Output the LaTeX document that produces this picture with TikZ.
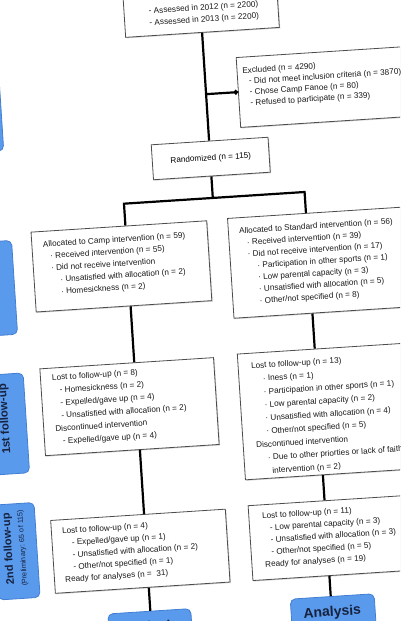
\documentclass[tikz,border=0pt]{standalone}
\usepackage{fontspec}
\setmainfont{Liberation Sans}
\usetikzlibrary{arrows.meta,shadows}
\definecolor{lblfill}{RGB}{90,154,236}
\definecolor{lbledge}{RGB}{66,126,210}
\definecolor{lbltext}{RGB}{22,34,62}
\newcommand\myind[1]{\hspace*{#1pt}}
\newcommand\fs[1]{\fontsize{8.2}{#1}\selectfont}
\begin{document}
\begin{tikzpicture}[x=1pt,y=-1pt,
  conn/.style={line width=2.2pt, black},
  fbox/.style={draw=black!70, line width=0.8pt, fill=white, inner sep=0pt, anchor=north west,
    drop shadow={shadow xshift=1pt, shadow yshift=-1pt, opacity=0.35}},
  ftext/.style={anchor=north west, inner sep=0pt, align=left, text=black!90, yshift=-3pt},
  lbl/.style={draw=lbledge, line width=0.8pt, fill=lblfill, rounded corners=5pt, inner sep=0pt, anchor=north west},
  lbltxt/.style={text=lbltext, inner sep=0pt, align=center}]
\useasboundingbox (0,0) rectangle (400,621);
\clip (0,0) rectangle (400,621);
\begin{scope}[rotate around={3.7:(200,310)}, transform shape]
% side labels
\node[lbl, minimum width=54pt, minimum height=100pt] (enr) at (-40,38) {};
\node[lbl, minimum width=46pt, minimum height=94pt] (alc) at (-30,228) {};
\node[lbl, minimum width=41pt, minimum height=100pt] (fu1) at (-22,361) {};
\node[lbltxt, rotate=90, font=\bfseries\fontsize{11.5}{13}\selectfont] (fu1-t) at (-1.5,406) {1st follow-up};
\node[lbl, minimum width=41.5pt, minimum height=95pt] (fu2) at (-20,491) {};
\node[lbltxt, rotate=90] (fu2-t) at (0,536) {{\bfseries\fontsize{11}{13}\selectfont 2nd follow-up}\\[1pt]{\fontsize{7.3}{9}\selectfont (Preliminary: 65 of 115)}};
% boxes
\node[fbox, minimum width=154pt, minimum height=72.7pt] (assess) at (143,-40) {};
\node[ftext, font=\fs{11.8}] (assess-t) at (168,1.9) {- Assessed in 2012 (n = 2200)\\- Assessed in 2013 (n = 2200)};
\node[fbox, minimum width=168pt, minimum height=70pt] (excl) at (252,60) {};
\node[ftext, font=\fs{10.9}] (excl-t) at (257.5,67.5) {Excluded (n = 4290)\\
\myind{6}- Did not meet inclusion criteria (n = 3870)\\
\myind{6}- Chose Camp Fanoe (n = 80)\\
\myind{6}- Refused to participate (n = 339)};
\node[fbox, anchor=center, minimum width=117pt, minimum height=35pt, font=\fs{10}] (rand) at (220.5,159.5) {\raisebox{-1.5pt}{Randomized (n = 115)}};
\node[fbox, minimum width=176pt, minimum height=80pt] (camp) at (36,221) {};
\node[ftext, font=\fs{12}] (camp-t) at (47.4,228) {Allocated to Camp intervention (n = 59)\\
\myind{6.5}· Received intervention (n = 55)\\
\myind{6.5}· Did not receive intervention\\
\myind{15}· Unsatisfied with allocation (n = 2)\\
\myind{15}· Homesickness (n = 2)};
\node[fbox, minimum width=187pt, minimum height=100pt] (std) at (233,220) {};
\node[ftext, font=\fs{11.8}] (std-t) at (244,227.3) {Allocated to Standard intervention (n = 56)\\
\myind{7}· Received intervention (n = 39)\\
\myind{7}· Did not receive intervention (n = 17)\\
\myind{16}· Participation in other sports (n = 1)\\
\myind{16}· Low parental capacity (n = 3)\\
\myind{16}· Unsatisfied with allocation (n = 5)\\
\myind{16}· Other/not specified (n = 8)};
\node[fbox, minimum width=174pt, minimum height=87pt] (fuA) at (36,358) {};
\node[ftext, font=\fs{12.8}] (fuA-t) at (47.8,361.6) {Lost to follow-up (n = 8)\\
\myind{6.8}- Homesickness (n = 2)\\
\myind{6.8}- Expelled/gave up (n = 4)\\
\myind{6.8}- Unsatisfied with allocation (n = 2)\\
Discontinued intervention\\
\myind{6.8}- Expelled/gave up (n = 4)};
\node[fbox, minimum width=186pt, minimum height=126pt] (fuB) at (234,356) {};
\node[ftext, font=\fs{13.2}] (fuB-t) at (247.2,362.8) {Lost to follow-up (n = 13)\\
\myind{11}· Iness (n = 1)\\
\myind{11}· Participation in other sports (n = 1)\\
\myind{11}· Low parental capacity (n = 2)\\
\myind{11}· Unsatisfied with allocation (n = 4)\\
\myind{11}· Other/not specified (n = 5)\\
Discontinued intervention\\
\myind{11}· Due to other priorties or lack of faith\\
\myind{14.5}intervention (n = 2)};
\node[fbox, minimum width=175pt, minimum height=73pt] (snA) at (37,510) {};
\node[ftext, font=\fs{12.1}] (snA-t) at (47.9,515.3) {Lost to follow-up (n = 4)\\
\myind{9}- Expelled/gave up (n = 1)\\
\myind{9}- Unsatisfied with allocation (n = 2)\\
\myind{9}- Other/not specified (n = 1)\\
Ready for analyses (n = \ 31)};
\node[fbox, minimum width=185pt, minimum height=75pt] (snB) at (235,508) {};
\node[ftext, font=\fs{12.1}] (snB-t) at (248.5,513.2) {Lost to follow-up (n = 11)\\
\myind{7}- Low parental capacity (n = 3)\\
\myind{7}- Unsatisfied with allocation (n = 3)\\
\myind{7}- Other/not specified (n = 5)\\
Ready for analyses (n = 19)};
\node[lbl, minimum width=83pt, minimum height=40pt] (anaA) at (88,607) {};
\node[lbltxt, font=\bfseries\fontsize{14}{16}\selectfont] (anaA-t) at (129.5,624) {Analysis};
\node[lbl, minimum width=84pt, minimum height=40pt] (anaB) at (271,604) {};
\node[lbltxt, font=\bfseries\fontsize{14}{16}\selectfont] (anaB-t) at (312.5,620.5) {Analysis};
% connectors
\coordinate (colC) at (220,0);
\coordinate (colL) at (131,0);
\coordinate (colR) at (312,0);
\coordinate (jx) at (220,95);
\coordinate (jy) at (220,199);
\coordinate (jl) at (131,199);
\coordinate (jr) at (312,199);
\draw[conn] (assess.south -| colC) -- (rand.north -| colC);
\draw[conn, -{Circle[length=4.5pt]}] (jx) -- (excl.west |- jx);
\draw[conn] (rand.south -| colC) -- (jy);
\draw[conn] (camp.north -| colL) -- (jl) -- (jr) -- (std.north -| colR);
\draw[conn] (camp.south -| colL) -- (fuA.north -| colL);
\draw[conn] (std.south -| colR) -- (fuB.north -| colR);
\draw[conn] (fuA.south -| colL) -- (snA.north -| colL);
\draw[conn] (fuB.south -| colR) -- (snB.north -| colR);
\draw[conn] (snA.south -| colL) -- (anaA.north -| colL);
\draw[conn] (snB.south -| colR) -- (anaB.north -| colR);
\end{scope}
\end{tikzpicture}
\end{document}
